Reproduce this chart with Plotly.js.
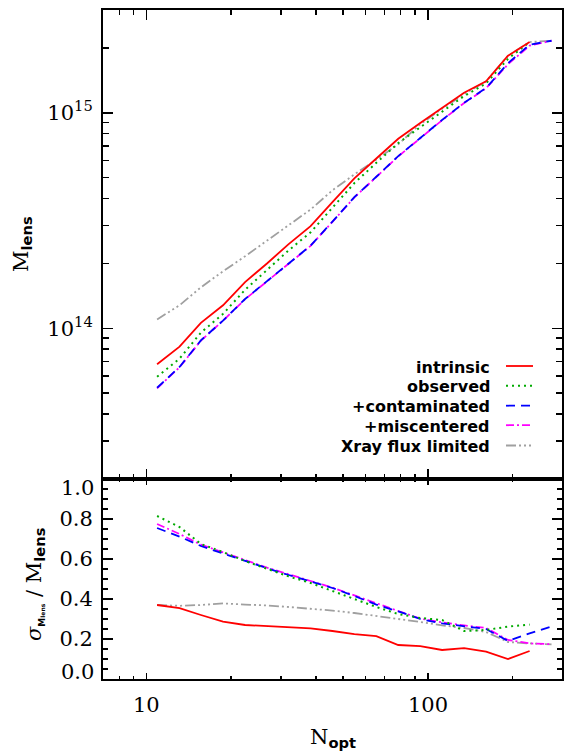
<!DOCTYPE html>
<html>
<head>
<meta charset="utf-8">
<script src="https://cdn.plot.ly/plotly-3.0.1.min.js"></script>
<style>html,body{margin:0;padding:0;background:#fff;}#chart{width:564px;height:753px;}</style>
</head>
<body>
<div id="chart"></div>
<script>
// ---- data ----
const nOpt = [10.9, 13.1, 15.6, 18.7, 22.4, 26.8, 32.0, 38.3, 45.8, 54.8, 65.6, 78.5, 94.0, 112.4, 134.6, 161.1, 192.8, 230.1, 275.4];

const intrinsicM    = [6.81e13, 8.22e13, 1.06e14, 1.28e14, 1.64e14, 2.00e14, 2.46e14, 2.98e14, 3.85e14, 4.97e14, 6.14e14, 7.58e14, 8.98e14, 1.057e15, 1.24e15, 1.40e15, 1.84e15, 2.13e15];
const observedM     = [5.96e13, 7.24e13, 9.55e13, 1.167e14, 1.51e14, 1.87e14, 2.30e14, 2.79e14, 3.63e14, 4.72e14, 5.86e14, 7.24e14, 8.57e14, 1.009e15, 1.197e15, 1.368e15, 1.78e15, 2.13e15];
const contaminatedM = [5.30e13, 6.62e13, 8.79e13, 1.086e14, 1.368e14, 1.652e14, 2.01e14, 2.42e14, 3.13e14, 4.06e14, 5.05e14, 6.30e14, 7.64e14, 9.27e14, 1.114e15, 1.303e15, 1.70e15, 2.07e15, 2.16e15];
const miscenteredM  = [5.27e13, 6.60e13, 8.77e13, 1.085e14, 1.365e14, 1.65e14, 2.005e14, 2.415e14, 3.12e14, 4.05e14, 5.04e14, 6.28e14, 7.62e14, 9.24e14, 1.11e15, 1.30e15, 1.68e15, 2.05e15, 2.16e15];
const xrayM         = [1.10e14, 1.28e14, 1.55e14, 1.84e14, 2.16e14, 2.55e14, 3.02e14, 3.56e14, 4.37e14, 5.18e14, 6.07e14, 7.15e14, 8.85e14, 1.045e15, 1.22e15, 1.40e15, 1.84e15, 2.13e15, 2.16e15];

const intrinsicS    = [0.370, 0.354, 0.320, 0.287, 0.270, 0.265, 0.260, 0.253, 0.240, 0.224, 0.214, 0.170, 0.164, 0.145, 0.154, 0.137, 0.100, 0.140];
const observedS     = [0.815, 0.760, 0.675, 0.635, 0.590, 0.550, 0.513, 0.480, 0.440, 0.400, 0.360, 0.325, 0.305, 0.295, 0.240, 0.245, 0.262, 0.272];
const contaminatedS = [0.755, 0.712, 0.665, 0.627, 0.592, 0.554, 0.520, 0.488, 0.455, 0.415, 0.372, 0.338, 0.300, 0.278, 0.265, 0.250, 0.190, 0.228, 0.262];
const miscenteredS  = [0.775, 0.725, 0.672, 0.632, 0.595, 0.557, 0.522, 0.490, 0.457, 0.418, 0.376, 0.340, 0.302, 0.283, 0.268, 0.255, 0.195, 0.178, 0.174];
const xrayS         = [0.370, 0.366, 0.370, 0.378, 0.372, 0.368, 0.360, 0.352, 0.342, 0.330, 0.316, 0.300, 0.285, 0.268, 0.255, 0.235, 0.185, 0.178, 0.173];

const seriesNames = ['intrinsic', 'observed', '+contaminated', '+miscentered', 'Xray flux limited'];
const xTickVals = [10, 100];
const xTickText = ['10', '100'];
const topTickVals = [1e14, 1e15];
const topTickText = ['10<sup>14</sup>', '10<sup>15</sup>'];
const botTickVals = [0.2, 0.4, 0.6, 0.8];
const botTickText = ['0.2', '0.4', '0.6', '0.8'];
const botEdgeLabels = ['1.0', '0.0'];

// ---- styles ----
const styles = [
  {color: '#ff0000', dash: 'solid', width: 1.8},
  {color: '#00aa00', dash: '2px,4px', width: 2},
  {color: '#0000ff', dash: '9px,6px', width: 1.8},
  {color: '#ff00ff', dash: '8px,3px,2px,3px', width: 1.8},
  {color: '#a0a0a0', dash: '10px,3px,2px,3px,2px,3px,2px,3px', width: 1.8}
];
const topSeries = [intrinsicM, observedM, contaminatedM, miscenteredM, xrayM];
const botSeries = [intrinsicS, observedS, contaminatedS, miscenteredS, xrayS];

const traces = [];
const order = [4, 3, 2, 1, 0];
order.forEach(i => {
  const s = styles[i];
  traces.push({x: nOpt.slice(0, topSeries[i].length), y: topSeries[i], xaxis: 'x2', yaxis: 'y2', mode: 'lines',
    line: {color: s.color, dash: s.dash, width: s.width}, name: seriesNames[i], hoverinfo: 'skip'});
  traces.push({x: nOpt.slice(0, botSeries[i].length), y: botSeries[i], xaxis: 'x', yaxis: 'y', mode: 'lines',
    line: {color: s.color, dash: s.dash, width: s.width}, name: seriesNames[i], hoverinfo: 'skip'});
});

// ---- geometry ----
const L = 103, R = 2, T = 10, B = 74, W = 564, H = 753;
const pw = W - L - R, ph = H - T - B;
const px2x = p => (p - L) / pw;
const px2y = p => (H - B - p) / ph;
const split = 200 / ph;

const serif = 'DejaVu Serif, Liberation Serif, serif';
const sans = 'DejaVu Sans, sans-serif';

const xMinor = [7, 8, 9, 20, 30, 40, 50, 60, 70, 80, 90, 200, 300];
const yMinorTop = [];
[1e13, 1e14, 1e15].forEach(d => { for (let k = 2; k <= 9; k++) { const v = k * d; if (v >= 2e13 && v <= 3e15) yMinorTop.push(v); } });

const axisCommon = {showline: true, linecolor: '#000', linewidth: 2, mirror: 'ticks', ticks: 'inside',
  tickcolor: '#000', tickwidth: 1.5, showgrid: false, zeroline: false,
  tickfont: {family: serif, size: 21, color: '#000'}};

// ---- legend (text left, sample right) ----
const legRows = [366, 385.7, 405.7, 425.2, 445.5];
const shapes = [];
const annotations = [];
seriesNames.forEach((n, i) => {
  const s = styles[i];
  shapes.push({type: 'line', xref: 'paper', yref: 'paper', x0: px2x(506), x1: px2x(533), y0: px2y(legRows[i]), y1: px2y(legRows[i]),
    line: {color: s.color, dash: s.dash, width: s.width}});
  annotations.push({xref: 'paper', yref: 'paper', x: px2x(492), y: px2y(legRows[i] + 1), xanchor: 'right', yanchor: 'middle',
    text: n, showarrow: false, font: {family: sans, size: 16, color: '#000', weight: 'bold'}});
});

// x tick labels of the lower panel, placed at their axis values
xTickVals.forEach((v, i) => {
  annotations.push({xref: 'x', yref: 'paper', x: Math.log10(v), y: px2y(705), xanchor: 'center', yanchor: 'middle',
    text: xTickText[i], showarrow: false, font: {family: serif, size: 21, color: '#000'}});
});

// edge tick labels of lower panel (drawn inset as in the reference)
annotations.push({xref: 'paper', yref: 'paper', x: px2x(96), y: px2y(488), xanchor: 'right', yanchor: 'middle',
  text: botEdgeLabels[0], showarrow: false, font: {family: serif, size: 21, color: '#000'}});
annotations.push({xref: 'paper', yref: 'paper', x: px2x(96), y: px2y(672), xanchor: 'right', yanchor: 'middle',
  text: botEdgeLabels[1], showarrow: false, font: {family: serif, size: 21, color: '#000'}});

// axis titles
const subStyle = 'font-family:DejaVu Sans;font-weight:bold';
annotations.push({xref: 'paper', yref: 'paper', x: px2x(22), y: px2y(244), xanchor: 'center', yanchor: 'middle', textangle: -90,
  text: 'M<sub><span style="' + subStyle + '">lens</span></sub>', showarrow: false, font: {family: serif, size: 21, color: '#000'}});
annotations.push({xref: 'paper', yref: 'paper', x: px2x(35), y: px2y(584), xanchor: 'center', yanchor: 'middle', textangle: -90,
  text: '<i>σ</i><sub><span style="' + subStyle + ';font-size:9px">M</span><span style="' + subStyle + ';font-size:6px">lens</span></sub> / M<sub><span style="' + subStyle + '">lens</span></sub>',
  showarrow: false, font: {family: serif, size: 21, color: '#000'}});
annotations.push({xref: 'paper', yref: 'paper', x: px2x(333), y: px2y(738), xanchor: 'center', yanchor: 'middle',
  text: 'N<sub><span style="' + subStyle + '">opt</span></sub>', showarrow: false, font: {family: serif, size: 21, color: '#000'}});

const layout = {
  width: W, height: H,
  margin: {l: L, r: R, t: T, b: B, pad: 0},
  paper_bgcolor: '#fff', plot_bgcolor: '#fff',
  showlegend: false,
  xaxis: Object.assign({}, axisCommon, {type: 'log', range: [Math.log10(7), Math.log10(300)], domain: [0, 1], anchor: 'y',
    tickmode: 'array', tickvals: xTickVals, showticklabels: false, ticklen: 6,
    minor: {tickmode: 'array', tickvals: xMinor, ticks: 'inside', ticklen: 3, tickwidth: 1.5, tickcolor: '#000'}}),
  xaxis2: Object.assign({}, axisCommon, {type: 'log', range: [Math.log10(7), Math.log10(300)], domain: [0, 1], anchor: 'y2', matches: 'x',
    tickmode: 'array', tickvals: xTickVals, showticklabels: false, ticklen: 10,
    minor: {tickmode: 'array', tickvals: xMinor, ticks: 'inside', ticklen: 5, tickwidth: 1.5, tickcolor: '#000'}}),
  yaxis: Object.assign({}, axisCommon, {range: [0, 1], domain: [0, split], anchor: 'x',
    tickmode: 'array', tickvals: botTickVals, ticktext: botTickText, ticklen: 10, ticklabelstandoff: 4,
    minor: {tickmode: 'linear', tick0: 0, dtick: 0.05, ticks: 'inside', ticklen: 5, tickwidth: 1.5, tickcolor: '#000'}}),
  yaxis2: Object.assign({}, axisCommon, {type: 'log', range: [Math.log10(2e13), Math.log10(3e15)], domain: [split, 1], anchor: 'x2',
    tickmode: 'array', tickvals: topTickVals, ticktext: topTickText, ticklen: 10, ticklabelstandoff: 4,
    minor: {tickmode: 'array', tickvals: yMinorTop, ticks: 'inside', ticklen: 6, tickwidth: 1.5, tickcolor: '#000'}}),
  shapes: shapes,
  annotations: annotations
};

Plotly.newPlot('chart', traces, layout, {staticPlot: true, displayModeBar: false});
</script>
</body>
</html>
